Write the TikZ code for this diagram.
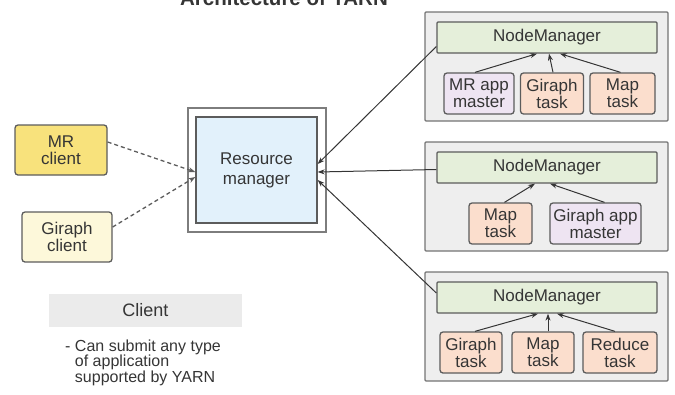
\documentclass[tikz,border=0pt]{standalone}
\usepackage{fontspec}
\setmainfont{Liberation Sans}
\usetikzlibrary{arrows.meta}

\definecolor{txt}{HTML}{353535}
\definecolor{edge}{HTML}{5C5C5C}
\definecolor{mrfill}{HTML}{F8E27C}
\definecolor{gcfill}{HTML}{FDF8DA}
\definecolor{rmfill}{HTML}{E2F1FB}
\definecolor{nmfill}{HTML}{EEEEEE}
\definecolor{barfill}{HTML}{E5EFDA}
\definecolor{taskfill}{HTML}{FBDECD}
\definecolor{appfill}{HTML}{EEE4F2}
\definecolor{bandfill}{HTML}{EBEBEB}

\begin{document}
\begin{tikzpicture}[x=1pt,y=-1pt,
        font=\fontsize{17}{17}\selectfont,text=txt,
        box/.style={draw=edge,line width=1.3pt,rounded corners=3pt,align=center,inner sep=0pt},
        task/.style={box,fill=taskfill,minimum height=41pt},
        bar/.style={draw=edge,line width=1.3pt,fill=barfill,rounded corners=1pt,minimum width=220pt,minimum height=31pt,inner sep=0pt},
        host/.style={draw=edge!85,line width=1.3pt,fill=nmfill,rounded corners=1pt,minimum width=243pt,minimum height=109pt},
        link/.style={draw=txt,line width=1pt,-{Stealth[length=7pt,width=5pt]}},
        submit/.style={draw=edge,line width=1.3pt,dash pattern=on 4pt off 3pt,-{Stealth[length=7pt,width=5pt]}}]

    \useasboundingbox (0,0) rectangle (675,394);

    % title (cut at the top edge)
    \node[font=\fontsize{20.5}{22}\selectfont\bfseries,anchor=base] (title) at (284,5) {Architecture of YARN};

    % Clients
    \node[box,fill=mrfill,minimum width=92pt,minimum height=50pt] (mr) at (61,150) {MR\\client};
    \node[box,fill=gcfill,minimum width=90pt,minimum height=50pt] (gc) at (67,237) {Giraph\\client};

    % Resource manager
    \node[draw=edge!80,line width=1.3pt,fill=white,minimum width=138pt,minimum height=124pt] (rmframe) at (257,170) {};
    \node[draw=edge,line width=1.3pt,fill=rmfill,minimum width=121pt,minimum height=106pt,align=center,font=\fontsize{17}{20}\selectfont] (rm) at (256.5,170) {Resource\\manager};

    \draw[submit] ([yshift=8pt]mr.east) -- ([yshift=-2pt]rm.west);
    \draw[submit] ([yshift=10pt]gc.east) -- ([yshift=-7pt]rm.west);

    % Client note
    \node[fill=bandfill,minimum width=193pt,minimum height=33pt,font=\fontsize{18}{18}\selectfont] (band) at (145.5,310.5) {Client};
    \node[anchor=north west,align=left,inner sep=0pt,font=\fontsize{16}{15.5}\selectfont] (note) at (65,339.5)
        {- Can submit any type\\\hphantom{- }of application\\\hphantom{- }supported by YARN};

    % Node 1
    \node[host] (host1) at (546.5,66.5) {};
    \node[bar] (bar1) at (547,37.5) {NodeManager};
    \node[box,fill=appfill,minimum width=70pt,minimum height=41pt] (am1) at (479,93.5) {MR app\\master};
    \node[task,minimum width=63pt] (gt1) at (552,93.5) {Giraph\\task};
    \node[task,minimum width=65pt] (mt1) at (622.5,93.5) {Map\\task};

    \draw[link] ([xshift=-4pt]am1.north) -- ([xshift=-10pt]bar1.south);
    \draw[link] ([xshift=1pt]gt1.north) -- ([xshift=2pt]bar1.south);
    \draw[link] ([xshift=-2pt]mt1.north) -- ([xshift=13pt]bar1.south);

    % Node 2
    \node[host] (host2) at (546.5,196.5) {};
    \node[bar] (bar2) at (547,167.5) {NodeManager};
    \node[task,minimum width=63pt] (mt2) at (500.5,223.5) {Map\\task};
    \node[box,fill=appfill,minimum width=91pt,minimum height=41pt] (am2) at (595.5,223.5) {Giraph app\\master};

    \draw[link] ([xshift=4pt]mt2.north) -- ([xshift=-12pt]bar2.south);
    \draw[link] ([xshift=9pt]am2.north) -- ([xshift=3pt]bar2.south);

    % Node 3
    \node[host] (host3) at (546.5,326.5) {};
    \node[bar] (bar3) at (547,297.5) {NodeManager};
    \node[task,minimum width=62pt] (gt3) at (471,352.5) {Giraph\\task};
    \node[task,minimum width=62pt] (mt3) at (543,352.5) {Map\\task};
    \node[task,minimum width=74pt] (rt3) at (620,352.5) {Reduce\\task};

    \draw[link] ([xshift=4pt]gt3.north) -- ([xshift=-9pt]bar3.south);
    \draw[link] ([xshift=5pt]mt3.north) -- ([xshift=1pt]bar3.south);
    \draw[link] ([xshift=-5pt]rt3.north) -- ([xshift=10pt]bar3.south);

    % heartbeats to the resource manager
    \draw[link] ([yshift=-9pt]bar1.west) -- ([yshift=6pt]rm.east);
    \draw[link] ([yshift=-2pt]bar2.west) -- ([yshift=-2pt]rm.east);
    \draw[link] ([yshift=4.5pt]bar3.west) -- ([yshift=-10pt]rm.east);

\end{tikzpicture}
\end{document}
